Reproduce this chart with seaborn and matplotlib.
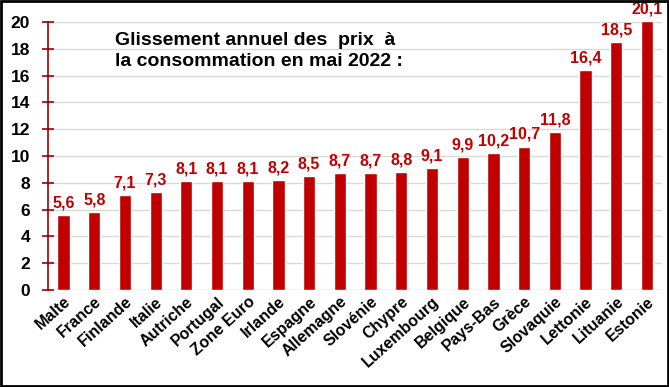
import matplotlib

matplotlib.use("Agg")

import matplotlib.pyplot as plt
import pandas as pd
import seaborn as sns
from matplotlib.patches import Rectangle

countries = ["Malte", "France", "Finlande", "Italie", "Autriche", "Portugal", "Zone Euro",
             "Irlande", "Espagne", "Allemagne", "Slovénie", "Chypre", "Luxembourg",
             "Belgique", "Pays-Bas", "Grèce", "Slovaquie", "Lettonie", "Lituanie", "Estonie"]
values = [5.6, 5.8, 7.1, 7.3, 8.1, 8.1, 8.1, 8.2, 8.5, 8.7, 8.7, 8.8, 9.1,
          9.9, 10.2, 10.7, 11.8, 16.4, 18.5, 20.1]
yticks = list(range(0, 21, 2))
title = "Glissement annuel des  prix  à\nla consommation en mai 2022 :"

red = "#C00000"

sns.set_theme(style="white")
plt.rcParams["font.family"] = ["Liberation Sans", "DejaVu Sans"]

df = pd.DataFrame({"pays": countries, "taux": values})

fig = plt.figure(figsize=(6.69, 3.87), dpi=100)
ax = fig.add_axes([0.072, 0.251, 0.918, 0.692])
sns.barplot(data=df, x="pays", y="taux", color=red, saturation=1, width=0.4, ax=ax)
for bar in ax.patches:
    bar.set_clip_on(False)

ax.set_ylim(0, 20)
ax.set_xlim(-0.5, len(countries) - 0.5)
ax.set_yticks(yticks)
ax.set_yticklabels([str(t) for t in yticks], fontweight="bold", fontsize=12.5, color="black")
ax.yaxis.grid(True, color="#d9d9d9", linewidth=1)
ax.set_axisbelow(True)
ax.set_xlabel("")
ax.set_ylabel("")

for s in ["top", "right", "bottom"]:
    ax.spines[s].set_visible(False)
ax.spines["left"].set_color("#a00000")
ax.spines["left"].set_linewidth(1.2)
ax.tick_params(axis="y", direction="inout", length=8, width=1.2, color="#a00000", pad=9, left=True)
ax.tick_params(axis="x", length=0, pad=3)
ax.axhline(0, color="#d9d9d9", linewidth=1, zorder=0)

ax.set_xticks(range(len(countries)))
ax.set_xticklabels(countries, rotation=42, ha="right", rotation_mode="anchor",
                   fontweight="bold", fontsize=11.5, color="black")

for i, v in enumerate(values):
    ax.text(i, v + 0.35, f"{v:.1f}".replace(".", ","), ha="center", va="bottom",
            color=red, fontweight="bold", fontsize=11.5, clip_on=False)

fig.text(0.172, 0.918, title, ha="left", va="top", fontsize=14, fontweight="bold",
         color="black", linespacing=1.35)

fig.patches.append(Rectangle((0.002, 0.003), 0.996, 0.994, transform=fig.transFigure,
                             fill=False, edgecolor="black", linewidth=2))

fig.savefig("out.png", dpi=100)
